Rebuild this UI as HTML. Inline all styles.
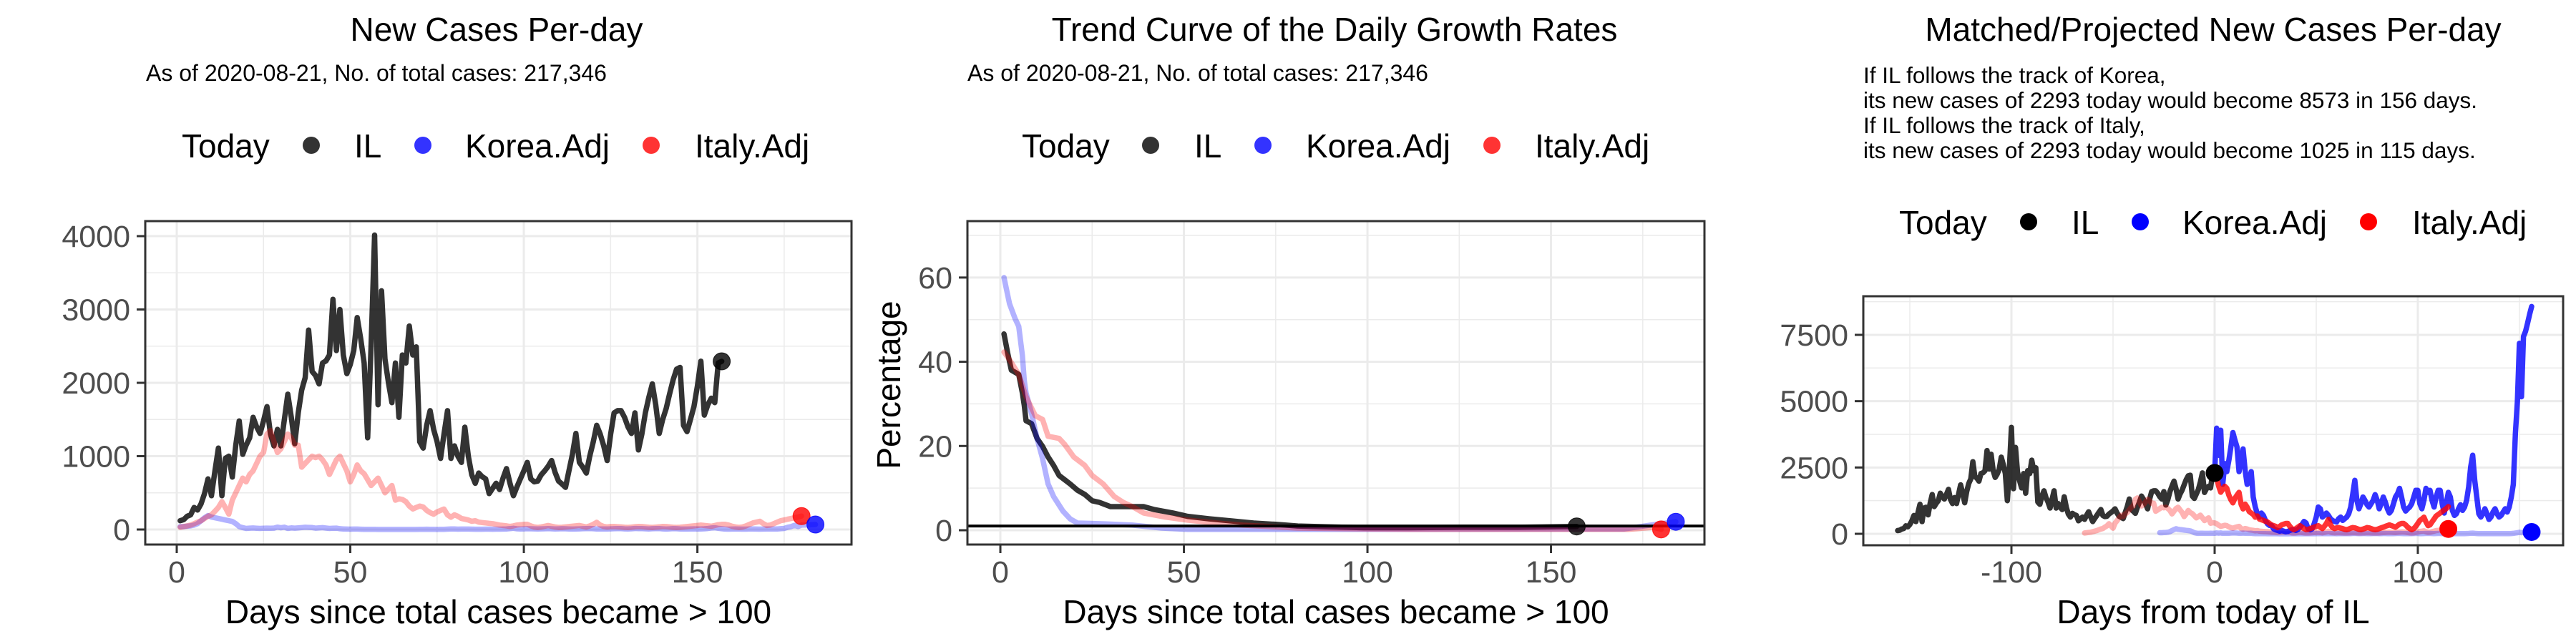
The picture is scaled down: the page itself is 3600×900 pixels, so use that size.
<!DOCTYPE html>
<html><head><meta charset="utf-8"><title>IL COVID charts</title>
<style>
html,body{margin:0;padding:0;background:#fff;}
svg{display:block;font-family:"Liberation Sans",Arial,sans-serif;}
</style></head>
<body>
<svg id="chart" width="3600" height="900" viewBox="0 0 3600 900" xmlns="http://www.w3.org/2000/svg"></svg>
<script>
// ---------- DATA ----------
const ilCases=[120,135,180,200,300,265,350,490,690,460,
800,1110,460,970,1000,715,1150,1480,1025,1150,
1250,1530,1400,1310,1480,1675,1300,1140,1365,1140,
1500,1845,1530,1170,1590,1900,2070,2720,2155,2100,
1985,2270,2300,2380,3140,2440,3000,2380,2125,2250,
2440,2890,2600,2270,1250,2500,4015,1700,3255,2325,
2000,1730,2270,1530,2380,2270,2775,2380,2490,1195,
1110,1420,1620,1365,1200,970,1300,1620,970,1140,
1000,915,1395,1000,745,630,770,720,690,490,
560,630,545,700,830,630,460,580,690,800,
915,690,650,660,745,800,860,940,780,660,
620,575,800,1025,1310,915,850,770,1000,1195,
1420,1300,1140,940,1300,1590,1620,1620,1530,1400,
1310,1590,1085,1300,1590,1800,1985,1700,1310,1500,
1650,1850,2040,2185,2210,1420,1335,1500,1675,1955,
2295,1560,1700,1790,1730,2270,2293];
const koreaAdj=[40,40,45,50,60,80,120,160,190,170,160,150,140,130,120,110,80,40,25,15,18,20,17,15,16,18,17,
18.2,31.6,23.5,31,14.8,21,18.6,22,26,30.3,28,26,18.6,22,25.4,19,14.8,16,18.6,11,8,6,5,6.2,5.5,4,3,2.5,2.5,1.5,
1.2,1,0.8,1,0.8,0.6,0.7,1,1.2,1.2,1,1.3,2,2.8,3.7,3.2,1.5,1.2,1.5,3,5,8,7.5,5,5.5,6.2,5.5,4.5,4,3.7,
3.5,4.5,5,4,4.5,5,6,8,12,16,10,7.5,9,11,10,8.7,8,9,10,11.7,10,7.5,9,11,9.5,7.5,6.2,7,9,11,
12,13.6,11,8,6.8,7.5,8,9,11,13,13,9,7.5,10,13.6,12.4,13,10,8,11,13,13,9,6.2,9,12.4,11,7,5.5,6,
7.5,8.7,7,8,10,14,20,23.5,16,11,6,5,6,7.5,6,4.3,5,6.5,7.5,6,5,5.5,6.5,7.5,6.5,8,11,14.8,30,39.6,
57,41,59,60.6,63,65.6,68];
const italyAdj=[30,40,50,60,80,100,120,150,180,200,
250,300,380,300,210,400,500,600,700,650,
750,800,900,1000,1050,1300,1350,1200,1050,1100,
1200,1300,1250,1150,1150,850,900,950,1000,980,
1000,950,880,750,850,950,1000,900,800,650,
750,880,800,760,680,600,650,700,600,500,
550,600,400,418,410,380,320,280,300,320,
307,260,230,209,240,260,279,200,168,200,
180,150,140,130,112,120,100,95,90,84,
80,70,60,55,50,42,50,60,65,70,
70,50,35,28,35,45,55,45,35,28,
30,35,40,45,50,55,45,35,50,70,
97,60,42,35,40,42,38,35,30,28,
32,38,42,40,35,30,28,32,36,42,
40,35,30,28,30,35,40,45,50,55,
60,55,50,45,55,65,70,70,60,45,
35,28,35,50,70,90,100,112,80,55,
60,80,100,120,130,140,150,160,170,183];
const todayIL=2293;
const koreaMatchDay=28;
const italyMatchDay=65;

const ilGrowthDays=[1,2,3,5,6,6.5,7,8.5,10,11.5,13,14.5,16,17.5,19,21,23,25,27,30,33,39,42,47,51,57,63,69,75,81,89,99,111,126,141,157];
const ilGrowth=[46.6,42,38,37,32.6,29.7,26,25.3,21.8,19.9,17.4,15.4,13,12,11,9.5,8.5,7,6.6,5.6,5.6,5.6,4.9,4.1,3.3,2.7,2.2,1.7,1.4,1.0,0.8,0.6,0.6,0.7,0.7,0.9];
const koreaGrowthDays=[1,2.5,4,5,6,6.5,7,8.5,10,11.5,13,14.5,17,19,21,29,36,44,51,100,170,177,184];
const koreaGrowth=[60,53.8,50.3,48.4,41.5,35.6,32.6,27.7,21.8,17,11,8,4.6,2.7,1.7,1.5,1.2,0.5,0.2,0.2,0.3,1.2,2];
const italyGrowthDays=[1,2.5,5,7,9.5,11.5,13,16,17.5,20,23,25,28,31,33.5,36,39,45,51,59,66,81,111,171,178,180];
const italyGrowth=[42.3,40.5,37,31.7,27.2,26.3,22.3,21.8,20.4,17.4,15.4,13,11,8,6.6,5.6,4.1,3.1,2.4,1.7,1.2,0.5,0.2,0.2,0.7,0.2];
const growthRefLine=1;

const p1XTicks=[0,50,100,150];
const p1YTicks=[0,1000,2000,3000,4000];
const p2XTicks=[0,50,100,150];
const p2YTicks=[0,20,40,60];
const p3XTicks=[-100,0,100];
const p3YTicks=[0,2500,5000,7500];

// ---------- DRAWING ----------
const NS='http://www.w3.org/2000/svg';
const svg=document.getElementById('chart');
function mk(tag,attrs,parent){const e=document.createElementNS(NS,tag);for(const k in attrs)e.setAttribute(k,attrs[k]);(parent||svg).appendChild(e);return e;}
function txt(s,attrs,parent){const e=mk('text',attrs,parent);e.textContent=s;return e;}

function makePanel(name,px0,px1,py0,py1,dx0,dx1,dy0,dy1){
  const g=mk('g',{});
  
  
  const sx=d=>px0+(d-dx0)/(dx1-dx0)*(px1-px0);
  const sy=v=>py1-(v-dy0)/(dy1-dy0)*(py1-py0);
  return {g,sx,sy,px0,px1,py0,py1};
}
function grid(P,xt,yt,xminor,yminor){
  const gg=mk('g',{},P.g);
  
  
  xminor.forEach(d=>{const x=P.sx(d);if(x>P.px0&&x<P.px1)mk('line',{x1:x,x2:x,y1:P.py0,y2:P.py1,stroke:'#ebebeb','stroke-width':1.5},gg);});
  yminor.forEach(v=>{const y=P.sy(v);if(y>P.py0&&y<P.py1)mk('line',{x1:P.px0,x2:P.px1,y1:y,y2:y,stroke:'#ebebeb','stroke-width':1.5},gg);});
  xt.forEach(d=>{const x=P.sx(d);mk('line',{x1:x,x2:x,y1:P.py0,y2:P.py1,stroke:'#ebebeb','stroke-width':3},gg);});
  yt.forEach(v=>{const y=P.sy(v);mk('line',{x1:P.px0,x2:P.px1,y1:y,y2:y,stroke:'#ebebeb','stroke-width':3},gg);});
}
function axes(P,xt,yt,xtitle){
  const b=mk('rect',{x:P.px0,y:P.py0,width:P.px1-P.px0,height:P.py1-P.py0,fill:'none',stroke:'#333333','stroke-width':3},P.g);
  
  
  const xa=mk('g',{},P.g);
  
  
  xt.forEach(d=>{const x=P.sx(d);
    mk('line',{x1:x,x2:x,y1:P.py1,y2:P.py1+12,stroke:'#333333','stroke-width':3},xa);
    const t=txt(String(d),{x:x,y:814,'text-anchor':'middle','font-size':43,fill:'#4d4d4d'},xa);
    
    
  });
  const ya=mk('g',{},P.g);
  
  
  yt.forEach(v=>{const y=P.sy(v);
    mk('line',{x1:P.px0-12,x2:P.px0,y1:y,y2:y,stroke:'#333333','stroke-width':3},ya);
    const t=txt(String(v),{x:P.px0-21,y:y+15,'text-anchor':'end','font-size':43,fill:'#4d4d4d'},ya);
    
    
  });
  const xtl=txt(xtitle,{x:(P.px0+P.px1)/2,y:871,'text-anchor':'middle','font-size':46,fill:'#000'},P.g);
  
  
}
function line(P,xs,ys,color,op,name,w){
  const pts=xs.map((d,i)=>P.sx(d).toFixed(1)+','+P.sy(ys[i]).toFixed(1)).join(' ');
  const p=mk('polyline',{points:pts,fill:'none',stroke:color,'stroke-opacity':op,'stroke-width':w||7.5,'stroke-linejoin':'round','stroke-linecap':'round'},P.g);
  
  
}
function dot(P,d,v,color,op,name){
  const c=mk('circle',{cx:P.sx(d),cy:P.sy(v),r:12,fill:color,'fill-opacity':op,stroke:color,'stroke-opacity':op,'stroke-width':1},P.g);
  
  
}
function header(cx,title,subLines,subX,legendY,leg,solid){
  const t=txt(title,{x:cx,y:57,'text-anchor':'middle','font-size':46,fill:'#000'});
  
  
  subLines.forEach((s,i)=>{
    const st=txt(s,{x:subX,y:(subLines.length>1?116:113)+i*35,'font-size':(subLines.length>1?31.5:32),fill:'#000'});
    
    
  });
  const lg=mk('g',{});
  
  
  const lt=txt('Today',{x:leg[0],y:legendY,'font-size':46,fill:'#000'},lg);
  
  
  const cols=['#000000','#0000ff','#ff0000'];
  const labs=['IL','Korea.Adj','Italy.Adj'];
  for(let i=0;i<3;i++){
    const e=mk('g',{},lg);
    
    
    mk('circle',{cx:leg[1+i*2],cy:legendY-17,r:12,fill:cols[i],'fill-opacity':solid?1:0.8},e);
    txt(labs[i],{x:leg[2+i*2],y:legendY,'font-size':46,fill:'#000'},e);
  }
}
function range(n,start){return Array.from({length:n},(_,i)=>i+start);}

// ----- Panel 1 -----
(function(){
  const P=makePanel('new-cases-panel',203,1190,309,761,-9.07,194.4,-205,4205);
  grid(P,p1XTicks,p1YTicks,[25,75,125,175],[500,1500,2500,3500]);
  const ilDays=range(ilCases.length,1);
  line(P,ilDays,ilCases,'#000000',0.8,'il-line');
  line(P,range(koreaAdj.length,1),koreaAdj,'#0000ff',0.3,'korea-adj-line');
  line(P,range(italyAdj.length,1),italyAdj,'#ff0000',0.3,'italy-adj-line');
  dot(P,ilCases.length,ilCases[ilCases.length-1],'#000000',0.8,'il-today-point');
  dot(P,italyAdj.length,italyAdj[italyAdj.length-1],'#ff0000',0.8,'italy-today-point');
  dot(P,koreaAdj.length,koreaAdj[koreaAdj.length-1],'#0000ff',0.8,'korea-today-point');
  axes(P,p1XTicks,p1YTicks,'Days since total cases became > 100');
  header(694,'New Cases Per-day',['As of 2020-08-21, No. of total cases: 217,346'],204,220,[254,435,495,591,650,910,971],false);
})();

// ----- Panel 2 -----
(function(){
  const P=makePanel('growth-rate-panel',1352,2382,309,761,-8.97,191.8,-3.4,73.4);
  grid(P,p2XTicks,p2YTicks,[25,75,125,175],[10,30,50,70]);
  line(P,ilGrowthDays,ilGrowth,'#000000',0.8,'il-growth-line');
  line(P,koreaGrowthDays,koreaGrowth,'#0000ff',0.3,'korea-growth-line');
  line(P,italyGrowthDays,italyGrowth,'#ff0000',0.3,'italy-growth-line');
  const rl=mk('line',{x1:P.px0,x2:P.px1,y1:P.sy(growthRefLine),y2:P.sy(growthRefLine),stroke:'#000','stroke-width':4},P.g);
  
  
  dot(P,ilGrowthDays[ilGrowthDays.length-1],ilGrowth[ilGrowth.length-1],'#000000',0.8,'il-today-point');
  dot(P,italyGrowthDays[italyGrowthDays.length-1],italyGrowth[italyGrowth.length-1],'#ff0000',0.8,'italy-today-point');
  dot(P,koreaGrowthDays[koreaGrowthDays.length-1],koreaGrowth[koreaGrowth.length-1],'#0000ff',0.8,'korea-today-point');
  axes(P,p2XTicks,p2YTicks,'Days since total cases became > 100');
  const yt=txt('Percentage',{x:1258,y:538,'text-anchor':'middle','font-size':46,fill:'#000',transform:'rotate(-90 1258 538)'});
  
  
  header(1865,'Trend Curve of the Daily Growth Rates',['As of 2020-08-21, No. of total cases: 217,346'],1352,220,[1428,1608,1669,1765,1825,2085,2145],false);
})();

// ----- Panel 3 -----
(function(){
  const P=makePanel('projection-panel',2604,3582,414,762,-172.9,171.5,-432,8956);
  grid(P,p3XTicks,p3YTicks,[-150,-50,50,150],[1250,3750,6250,8750]);
  const n=ilCases.length;
  line(P,range(n,1).map(d=>d-n),ilCases,'#000000',0.8,'il-line');
  line(P,range(italyAdj.length,1).map(d=>d-italyMatchDay),italyAdj,'#ff0000',0.3,'italy-adj-matched-line');
  line(P,range(koreaAdj.length,1).map(d=>d-koreaMatchDay),koreaAdj,'#0000ff',0.3,'korea-adj-matched-line');
  const ks=todayIL/koreaAdj[koreaMatchDay-1];
  const kDays=range(koreaAdj.length-koreaMatchDay+1,koreaMatchDay);
  line(P,kDays.map(d=>d-koreaMatchDay),kDays.map(d=>koreaAdj[d-1]*ks),'#0000ff',0.8,'korea-projection-line');
  const is=todayIL/italyAdj[italyMatchDay-1];
  const iDays=range(italyAdj.length-italyMatchDay+1,italyMatchDay);
  line(P,iDays.map(d=>d-italyMatchDay),iDays.map(d=>italyAdj[d-1]*is),'#ff0000',0.8,'italy-projection-line');
  dot(P,0,todayIL,'#000000',1,'il-today-point');
  dot(P,italyAdj.length-italyMatchDay,italyAdj[italyAdj.length-1],'#ff0000',1,'italy-end-point');
  dot(P,koreaAdj.length-koreaMatchDay,koreaAdj[koreaAdj.length-1],'#0000ff',1,'korea-end-point');
  axes(P,p3XTicks,p3YTicks,'Days from today of IL');
  header(3093,'Matched/Projected New Cases Per-day',['If IL follows the track of Korea,','its new cases of 2293 today would become 8573 in 156 days.','If IL follows the track of Italy,','its new cases of 2293 today would become 1025 in 115 days.'],2604,327,[2654,2835,2895,2991,3050,3310,3371],true);
})();
</script>
</body></html>
